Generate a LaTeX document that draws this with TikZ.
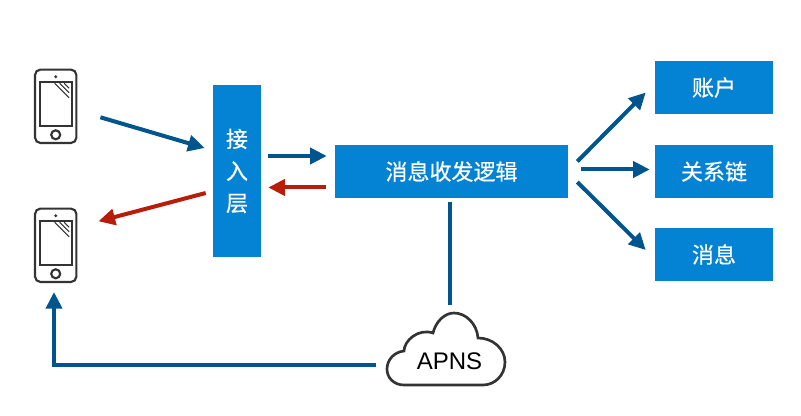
\documentclass[tikz,border=0pt]{standalone}
\usepackage{xcolor}
\usepackage{fontspec}
\setmainfont{Liberation Sans}
\newfontfamily\cjk[FakeBold=0.5]{Noto Sans CJK SC}
\usetikzlibrary{arrows.meta}
\definecolor{boxblue}{HTML}{0482D4}
\definecolor{flowblue}{HTML}{00558C}
\definecolor{flowred}{HTML}{B81D0A}
\definecolor{iconline}{HTML}{333333}
\tikzset{
  block/.style={fill=boxblue,text=white,inner sep=0pt,font=\cjk\fontsize{16.5}{24}\selectfont,align=center},
  flow/.style={color=flowblue,line width=3pt,-{Triangle[length=12.5pt,width=12pt]}},
  back/.style={flow,color=flowred},
  phonebody/.style={draw=iconline,line width=1.6pt,rounded corners=4pt,inner sep=0pt,minimum width=31pt,minimum height=55pt},
  handset/.pic={
    \draw [iconline,line width=1.6pt] (-16,-24) rectangle (16,19.5);
    \fill [iconline] (0,-29.5) circle (1.6);
    \draw [iconline,line width=1.6pt] (0,28.5) circle (4.5);
    \draw [iconline,line width=0.8pt] (-1,-23) -- (13.5,-8.5);
    \draw [iconline,line width=0.8pt] (4,-23) -- (13.5,-13.5);
    \draw [iconline,line width=0.8pt] (8.5,-23) -- (13.5,-18);
  }
}
\begin{document}
\begin{tikzpicture}[x=0.75pt,y=0.75pt,yscale=-1,xscale=1]
    \useasboundingbox (0,0) rectangle (801,416);
    % boxes
    \node [block,minimum width=36pt,minimum height=129pt] (access) at (237,171) {接\\入\\层};
    \node [block,minimum width=174.75pt,minimum height=39.75pt] (logic) at (451.5,171.5) {消息收发逻辑};
    \node [block,minimum width=88.5pt,minimum height=39.75pt] (account) at (714,87.5) {账户};
    \node [block,minimum width=88.5pt,minimum height=39.75pt] (relation) at (714,171.5) {关系链};
    \node [block,minimum width=88.5pt,minimum height=39.75pt] (message) at (714,254.5) {消息};
    % phones
    \node [phonebody] (phonetop) at (55.7,106.3) {};
    \node [phonebody] (phonebottom) at (55.7,245.3) {};
    \pic [yscale=-1] at (phonetop.center) {handset};
    \pic [yscale=-1] at (phonebottom.center) {handset};
    % cloud
    \draw [iconline,line width=2pt,fill=white] (404,385) .. controls (394,385) and (387,378) .. (387,369) .. controls (387,360) and (394,352) .. (404,351) .. controls (404,341) and (418,328) .. (433,333) .. controls (436,321) and (445,313) .. (454,313) .. controls (466,313) and (477,324) .. (478,338) .. controls (493,338) and (505,349) .. (505,362) .. controls (505,375) and (495,385) .. (483,385) -- cycle ;
    \node [inner sep=0pt,minimum width=88.5pt,minimum height=27pt,font=\fontsize{18}{20}\selectfont] (apns) at (449.5,361) {APNS};
    % connectors
    \draw [flow] ([shift={(23,11)}]phonetop.east) -- ([shift={(-8,-23)}]access.west);
    \draw [back] ([shift={(-7,22)}]access.west) -- ([shift={(21,-24)}]phonebottom.east);
    \draw [flow] ([shift={(7,-15)}]access.east) -- ([shift={(-8,-15.5)}]logic.west);
    \draw [back] ([shift={(-9,16)}]logic.west) -- ([shift={(7,16.5)}]access.east);
    \draw [flow] ([shift={(9,-10)}]logic.east) -- ([shift={(-9,5)}]account.west);
    \draw [flow] ([shift={(13,-2)}]logic.east) -- ([shift={(-5,-2)}]relation.west);
    \draw [flow] ([shift={(9,10.5)}]logic.east) -- ([shift={(-9,-4.5)}]message.west);
    \draw [flow,-] ([shift={(-1.5,4)}]logic.south) -- ([shift={(0.5,-38)}]apns.north);
    \draw [flow] ([shift={(-14.5,4)}]apns.west) -| ([shift={(-1.7,9)}]phonebottom.south);
\end{tikzpicture}
\end{document}
